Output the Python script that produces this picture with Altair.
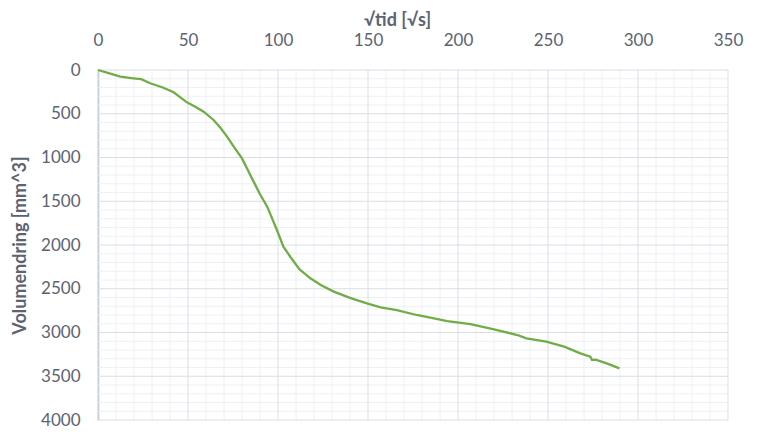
import altair as alt
import pandas as pd

# Curve data (sqrt time vs volume change)
sqrt_t = [0, 5, 12.4, 19.6, 24, 29, 36, 42, 49.4, 54, 58.7, 64.2, 68, 71.7, 75.4,
          80, 84.6, 90, 94, 99.4, 103, 106.8, 112, 118, 124, 131, 140, 149.4, 157,
          166, 177, 186, 194, 207, 220, 233, 238, 249, 259, 268, 273.5, 274.5, 276.5,
          283, 289.7]
volume = [0, 30, 76, 95, 105, 152, 200, 255, 370, 420, 476, 571, 660, 762, 876,
          1010, 1200, 1420, 1562, 1829, 2019, 2134, 2280, 2381, 2460, 2533, 2605, 2667, 2712,
          2743, 2800, 2835, 2869, 2903, 2964, 3029, 3067, 3105, 3162, 3238, 3276, 3314, 3310,
          3355, 3410]

x_major = list(range(0, 351, 50))
y_major = list(range(0, 4001, 500))
x_minor = [v for v in range(0, 351, 10) if v % 50 != 0]
y_minor = [v for v in range(0, 4001, 100) if v % 500 != 0]

df = pd.DataFrame({"x": sqrt_t, "y": volume})

LABEL_COLOR = "#5b6372"
FONT = "Lato"

xscale = alt.Scale(domain=[0, 350], nice=False, zero=False)
yscale = alt.Scale(domain=[0, 4000], reverse=True, nice=False)

xaxis = alt.Axis(orient="top", values=x_major, title="√tid [√s]", format="d",
                 grid=False, ticks=False, tickSize=0, domain=False,
                 labelPadding=21, labelFlush=False, labelFont=FONT,
                 labelFontSize=17, labelColor=LABEL_COLOR,
                 titleFont=FONT, titleFontSize=18, titleFontWeight="bold",
                 titleColor=LABEL_COLOR, titleX=299, titleY=-45,
                 titleBaseline="alphabetic", titleAnchor="middle")
yaxis = alt.Axis(orient="left", values=y_major, title="Volumendring [mm^3]", format="d",
                 grid=False, ticks=False, tickSize=0, domain=True,
                 domainColor="#b4bccc", domainWidth=1.5,
                 labelPadding=18, labelFlush=False, labelFont=FONT,
                 labelFontSize=17, labelColor=LABEL_COLOR,
                 titleFont=FONT, titleFontSize=18, titleFontWeight="bold",
                 titleColor=LABEL_COLOR, titleX=-78, titleY=175,
                 titleAngle=-90, titleBaseline="middle", titleAnchor="middle")

X = lambda: alt.X("x:Q", scale=xscale, axis=xaxis)
Y = lambda: alt.Y("y:Q", scale=yscale, axis=yaxis)

minor_v = alt.Chart(pd.DataFrame({"x": x_minor})).mark_rule(color="#eef0f4", strokeWidth=1).encode(x=X())
minor_h = alt.Chart(pd.DataFrame({"y": y_minor})).mark_rule(color="#eef0f4", strokeWidth=1).encode(y=Y())
major_v = alt.Chart(pd.DataFrame({"x": x_major})).mark_rule(color="#d9dee6", strokeWidth=1).encode(x=X())
major_h = alt.Chart(pd.DataFrame({"y": y_major})).mark_rule(color="#d9dee6", strokeWidth=1).encode(y=Y())

line = alt.Chart(df).mark_line(color="#70ad47", strokeWidth=2.3).encode(
    x=X(), y=Y(), order=alt.Order("x:Q"),
)

chart = alt.layer(minor_v, minor_h, major_v, major_h, line).properties(
    width=630, height=350,
    autosize=alt.AutoSizeParams(type="none"),
    padding={"left": 90, "top": 62, "right": 24, "bottom": 14},
    background="white",
).configure_view(stroke=None)

chart.save("out.html", embed_options={"renderer": "svg", "actions": False})
